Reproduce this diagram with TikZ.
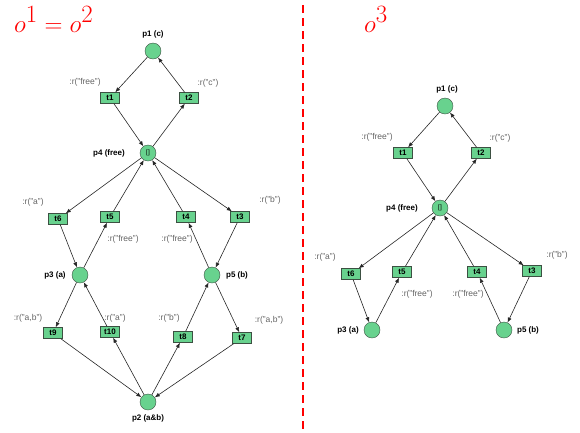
\documentclass[tikz,border=0pt]{standalone}
\usepackage{fontspec}
\setmainfont{Liberation Sans}
\usetikzlibrary{positioning,arrows.meta}

\definecolor{placegreen}{RGB}{104,210,142}
\definecolor{rimgray}{RGB}{60,80,66}
\definecolor{guardgray}{RGB}{100,100,100}

\tikzset{
	place/.style={circle, draw=rimgray, fill=placegreen, minimum size=16pt, inner sep=0pt, font=\fontsize{6.5}{6.5}\selectfont},
	trans/.style={rectangle, draw=rimgray, fill=placegreen, minimum width=19pt, minimum height=11pt, inner sep=1pt, font=\bfseries\fontsize{8}{8}\selectfont},
	pname/.style={inner sep=0pt, font=\bfseries\fontsize{8}{8}\selectfont},
	guard/.style={inner sep=0pt, text=guardgray, font=\fontsize{8.5}{8.5}\selectfont},
	arc/.style={-{Latex[length=5pt,width=4pt]}, draw=black!85, line width=0.6pt},
	title/.style={inner sep=0pt, anchor=base west, text=red, font=\fontsize{35}{35}\selectfont},
}

\begin{document}
\begin{tikzpicture}[x=1pt, y=-1pt]
	\useasboundingbox (0,0) rectangle (580,432);

	\node [title] (o12) at (14,32) {$o^1 = o^2$};
	\node [title] (o3) at (364,32) {$o^3$};

	\coordinate (divtop) at (303,5);
	\coordinate (divbot) at (303,430);
	\draw [red, line width=1.8pt, dash pattern=on 8pt off 5pt] (divtop) -- (divbot);

	\begin{scope}[name prefix=l-]
		\node [place] (p1) at (153,51) {};
		\node [pname] (lp1) at (153,34) {p1 (c)};
		\node [trans] (t1) at (110,98) {t1};
		\node [trans] (t2) at (189,98) {t2};
		\node [guard] (g1) at (85,82) {:r("free")};
		\node [guard] (g2) at (208,83) {:r("c")};
		\node [place] (p4) at (148,153) {[]};
		\node [pname] (lp4) at (109,153) {p4 (free)};
		\node [trans] (t6) at (58,219) {t6};
		\node [trans] (t5) at (110,217) {t5};
		\node [trans] (t4) at (186,217) {t4};
		\node [trans] (t3) at (240,217) {t3};
		\node [guard] (g6) at (33,202) {:r("a")};
		\node [guard] (g5) at (123,239) {:r("free")};
		\node [guard] (g4) at (177,239) {:r("free")};
		\node [guard] (g3) at (270,200) {:r("b")};
		\node [place] (p3) at (80,275) {};
		\node [pname] (lp3) at (55,275) {p3 (a)};
		\node [place] (p5) at (212,275) {};
		\node [pname] (lp5) at (237,275) {p5 (b)};
		\node [trans] (t9) at (53,333) {t9};
		\node [trans] (t10) at (110,332) {t10};
		\node [trans] (t8) at (183,337) {t8};
		\node [trans] (t7) at (242,338) {t7};
		\node [guard] (g9) at (28,318) {:r("a,b")};
		\node [guard] (g10) at (115,318) {:r("a")};
		\node [guard] (g8) at (169,318) {:r("b")};
		\node [guard] (g7) at (269,320) {:r("a,b")};
		\node [place] (p2) at (148,402) {};
		\node [pname] (lp2) at (148,418) {p2 (a\&b)};

		\draw [arc] (p1) -- (t1);
		\draw [arc] (t2) -- (p1);
		\draw [arc] (t1) -- (p4);
		\draw [arc] (p4) -- (t2);
		\draw [arc] (p4) -- (t6);
		\draw [arc] (t5) -- (p4);
		\draw [arc] (t4) -- (p4);
		\draw [arc] (p4) -- (t3);
		\draw [arc] (t6) -- (p3);
		\draw [arc] (p3) -- (t5);
		\draw [arc] (p5) -- (t4);
		\draw [arc] (t3) -- (p5);
		\draw [arc] (p3) -- (t9);
		\draw [arc] (t10) -- (p3);
		\draw [arc] (t8) -- (p5);
		\draw [arc] (p5) -- (t7);
		\draw [arc] (t9) -- (p2);
		\draw [arc] (p2) -- (t10);
		\draw [arc] (p2) -- (t8);
		\draw [arc] (t7) -- (p2);
	\end{scope}

	\begin{scope}[name prefix=r-]
		\node [place] (p1) at (445,106) {};
		\node [pname] (lp1) at (447,89) {p1 (c)};
		\node [trans] (t1) at (403,153) {t1};
		\node [trans] (t2) at (481,153) {t2};
		\node [guard] (g1) at (377,137) {:r("free")};
		\node [guard] (g2) at (500,138) {:r("c")};
		\node [place] (p4) at (440,208) {[]};
		\node [pname] (lp4) at (402,208) {p4 (free)};
		\node [trans] (t6) at (351,274) {t6};
		\node [trans] (t5) at (402,272) {t5};
		\node [trans] (t4) at (477,272) {t4};
		\node [trans] (t3) at (532,271) {t3};
		\node [guard] (g6) at (325,257) {:r("a")};
		\node [guard] (g5) at (417,294) {:r("free")};
		\node [guard] (g4) at (468,294) {:r("free")};
		\node [guard] (g3) at (557,255) {:r("b")};
		\node [place] (p3) at (372,330) {};
		\node [pname] (lp3) at (348,330) {p3 (a)};
		\node [place] (p5) at (504,330) {};
		\node [pname] (lp5) at (528,330) {p5 (b)};

		\draw [arc] (p1) -- (t1);
		\draw [arc] (t2) -- (p1);
		\draw [arc] (t1) -- (p4);
		\draw [arc] (p4) -- (t2);
		\draw [arc] (p4) -- (t6);
		\draw [arc] (t5) -- (p4);
		\draw [arc] (t4) -- (p4);
		\draw [arc] (p4) -- (t3);
		\draw [arc] (t6) -- (p3);
		\draw [arc] (p3) -- (t5);
		\draw [arc] (p5) -- (t4);
		\draw [arc] (t3) -- (p5);
	\end{scope}
\end{tikzpicture}
\end{document}
